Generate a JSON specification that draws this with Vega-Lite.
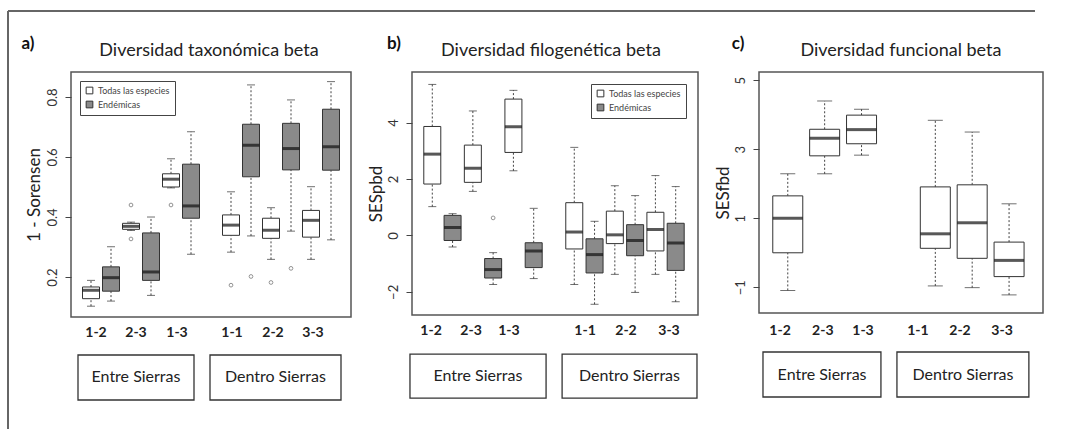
{
  "$schema": "https://vega.github.io/schema/vega-lite/v6.json",
  "background": "white",
  "padding": {"left": 6, "top": 9, "right": 0, "bottom": 0},
  "spacing": 61,
  "bounds": "flush",
  "resolve": {"scale": {"x": "independent", "y": "independent", "fill": "independent"}, "legend": {"fill": "independent"}},
  "datasets": {
    "one": [{}],
    "boxA": [
      {"p": 1, "grp": "Todas las especies", "lo": 0.103, "q1": 0.128, "med": 0.156, "q3": 0.167, "hi": 0.189},
      {"p": 2, "grp": "Endémicas", "lo": 0.12, "q1": 0.153, "med": 0.198, "q3": 0.234, "hi": 0.301},
      {"p": 3, "grp": "Todas las especies", "lo": 0.355, "q1": 0.359, "med": 0.369, "q3": 0.379, "hi": 0.383},
      {"p": 4, "grp": "Endémicas", "lo": 0.139, "q1": 0.189, "med": 0.217, "q3": 0.347, "hi": 0.4},
      {"p": 5, "grp": "Todas las especies", "lo": 0.497, "q1": 0.5, "med": 0.526, "q3": 0.544, "hi": 0.594},
      {"p": 6, "grp": "Endémicas", "lo": 0.276, "q1": 0.396, "med": 0.437, "q3": 0.576, "hi": 0.684},
      {"p": 8, "grp": "Todas las especies", "lo": 0.283, "q1": 0.339, "med": 0.373, "q3": 0.407, "hi": 0.484},
      {"p": 9, "grp": "Endémicas", "lo": 0.337, "q1": 0.534, "med": 0.639, "q3": 0.709, "hi": 0.84},
      {"p": 10, "grp": "Todas las especies", "lo": 0.259, "q1": 0.329, "med": 0.356, "q3": 0.396, "hi": 0.431},
      {"p": 11, "grp": "Endémicas", "lo": 0.353, "q1": 0.557, "med": 0.628, "q3": 0.712, "hi": 0.79},
      {"p": 12, "grp": "Todas las especies", "lo": 0.259, "q1": 0.333, "med": 0.389, "q3": 0.422, "hi": 0.501},
      {"p": 13, "grp": "Endémicas", "lo": 0.324, "q1": 0.556, "med": 0.634, "q3": 0.759, "hi": 0.851}
    ],
    "outA": [
      {"p": 3, "v": 0.44}, {"p": 3, "v": 0.327}, {"p": 5, "v": 0.44},
      {"p": 8, "v": 0.173}, {"p": 9, "v": 0.202}, {"p": 10, "v": 0.182}, {"p": 11, "v": 0.229}
    ],
    "labA": [
      {"p": 1.25, "lab": "1-2"}, {"p": 3.25, "lab": "2-3"}, {"p": 5.3, "lab": "1-3"},
      {"p": 8.05, "lab": "1-1"}, {"p": 10.1, "lab": "2-2"}, {"p": 12.1, "lab": "3-3"}
    ],
    "grpA": [
      {"g": "Entre Sierras", "x0": 0.35, "x1": 6.15, "xm": 3.25},
      {"g": "Dentro Sierras", "x0": 6.95, "x1": 13.5, "xm": 10.22}
    ],
    "boxB": [
      {"p": 1, "grp": "Todas las especies", "lo": 1.02, "q1": 1.82, "med": 2.88, "q3": 3.86, "hi": 5.35},
      {"p": 2, "grp": "Endémicas", "lo": -0.41, "q1": -0.18, "med": 0.28, "q3": 0.71, "hi": 0.77},
      {"p": 3, "grp": "Todas las especies", "lo": 1.56, "q1": 1.88, "med": 2.38, "q3": 3.2, "hi": 4.41},
      {"p": 4, "grp": "Endémicas", "lo": -1.74, "q1": -1.51, "med": -1.21, "q3": -0.82, "hi": -0.61},
      {"p": 5, "grp": "Todas las especies", "lo": 2.29, "q1": 2.94, "med": 3.85, "q3": 4.83, "hi": 5.14},
      {"p": 6, "grp": "Endémicas", "lo": -1.53, "q1": -1.14, "med": -0.55, "q3": -0.26, "hi": 0.96},
      {"p": 8, "grp": "Todas las especies", "lo": -1.74, "q1": -0.48, "med": 0.12, "q3": 1.16, "hi": 3.12},
      {"p": 9, "grp": "Endémicas", "lo": -2.44, "q1": -1.33, "med": -0.68, "q3": -0.12, "hi": 0.5},
      {"p": 10, "grp": "Todas las especies", "lo": -1.38, "q1": -0.29, "med": 0.02, "q3": 0.86, "hi": 1.76},
      {"p": 11, "grp": "Endémicas", "lo": -2.02, "q1": -0.72, "med": -0.18, "q3": 0.38, "hi": 1.41},
      {"p": 12, "grp": "Todas las especies", "lo": -1.38, "q1": -0.55, "med": 0.21, "q3": 0.82, "hi": 2.12},
      {"p": 13, "grp": "Endémicas", "lo": -2.35, "q1": -1.24, "med": -0.27, "q3": 0.43, "hi": 1.73}
    ],
    "outB": [{"p": 4, "v": 0.62}],
    "labB": [
      {"p": 0.94, "lab": "1-2"}, {"p": 2.91, "lab": "2-3"}, {"p": 4.78, "lab": "1-3"},
      {"p": 8.53, "lab": "1-1"}, {"p": 10.55, "lab": "2-2"}, {"p": 12.67, "lab": "3-3"}
    ],
    "grpB": [
      {"g": "Entre Sierras", "x0": -0.1, "x1": 6.61, "xm": 3.25},
      {"g": "Dentro Sierras", "x0": 7.4, "x1": 14.05, "xm": 10.72}
    ],
    "boxC": [
      {"p": 1, "lo": -1.09, "q1": 0.0, "med": 1.0, "q3": 1.65, "hi": 2.29},
      {"p": 2, "lo": 2.29, "q1": 2.81, "med": 3.32, "q3": 3.58, "hi": 4.4},
      {"p": 3, "lo": 2.83, "q1": 3.16, "med": 3.57, "q3": 3.99, "hi": 4.16},
      {"p": 5, "lo": -0.96, "q1": 0.13, "med": 0.55, "q3": 1.91, "hi": 3.84},
      {"p": 6, "lo": -1.01, "q1": -0.16, "med": 0.87, "q3": 1.97, "hi": 3.5},
      {"p": 7, "lo": -1.22, "q1": -0.69, "med": -0.22, "q3": 0.31, "hi": 1.42}
    ],
    "labC": [
      {"p": 0.79, "lab": "1-2"}, {"p": 1.95, "lab": "2-3"}, {"p": 3.04, "lab": "1-3"},
      {"p": 4.53, "lab": "1-1"}, {"p": 5.67, "lab": "2-2"}, {"p": 6.81, "lab": "3-3"}
    ],
    "grpC": [
      {"g": "Entre Sierras", "x0": 0.328, "x1": 3.526, "xm": 1.93},
      {"g": "Dentro Sierras", "x0": 3.96, "x1": 7.537, "xm": 5.75}
    ]
  },
  "hconcat": [
    {
      "width": 280, "height": 245,
      "layer": [
        {"data": {"name": "one"}, "mark": {"type": "rule", "color": "#666", "strokeWidth": 2},
         "encoding": {"x": {"datum": -3.15, "type": "quantitative", "axis": null}, "y": {"datum": 1.0862, "type": "quantitative"}, "y2": {"datum": -0.306}}},
        {"data": {"name": "one"}, "mark": {"type": "rule", "color": "#666", "strokeWidth": 2},
         "encoding": {"x": {"datum": -3.15, "type": "quantitative", "axis": null}, "x2": {"datum": 48.2}, "y": {"datum": 1.0862, "type": "quantitative"}}},
        {"mark": {"type": "rule", "color": "#555", "strokeWidth": 1.3},
         "encoding": {"x": {"datum": 6.9, "type": "quantitative", "axis": null}}},
        {"data": {"name": "boxA"}, "mark": {"type": "rule", "color": "#444", "strokeWidth": 1, "strokeDash": [2, 2]},
         "encoding": {"x": {"field": "p", "type": "quantitative", "axis": null}, "y": {"field": "q3", "type": "quantitative"}, "y2": {"field": "hi"}}},
        {"data": {"name": "boxA"}, "mark": {"type": "rule", "color": "#444", "strokeWidth": 1, "strokeDash": [2, 2]},
         "encoding": {"x": {"field": "p", "type": "quantitative", "axis": null}, "y": {"field": "lo", "type": "quantitative"}, "y2": {"field": "q1"}}},
        {"data": {"name": "boxA"}, "mark": {"type": "tick", "orient": "horizontal", "size": 8, "thickness": 1, "color": "#333"},
         "encoding": {"x": {"field": "p", "type": "quantitative", "axis": null}, "y": {"field": "hi", "type": "quantitative"}}},
        {"data": {"name": "boxA"}, "mark": {"type": "tick", "orient": "horizontal", "size": 8, "thickness": 1, "color": "#333"},
         "encoding": {"x": {"field": "p", "type": "quantitative", "axis": null}, "y": {"field": "lo", "type": "quantitative"}}},
        {"data": {"name": "boxA"}, "mark": {"type": "bar", "width": 17, "stroke": "#333", "strokeWidth": 1},
         "encoding": {
           "x": {"field": "p", "type": "quantitative", "axis": null, "scale": {"domain": [0, 14], "nice": false, "zero": false, "padding": 0}},
           "y": {"field": "q1", "type": "quantitative", "scale": {"domain": [0.067, 0.883], "nice": false, "zero": false, "padding": 0},
                 "axis": {"title": "1 - Sorensen", "values": [0.2, 0.4, 0.6, 0.8], "titlePadding": 3}},
           "y2": {"field": "q3"},
           "fill": {"field": "grp", "type": "nominal", "scale": {"domain": ["Todas las especies", "Endémicas"], "range": ["#ffffff", "#8a8a8a"]},
                    "legend": {"orient": "top-left", "offset": 9, "title": null, "strokeColor": "#444", "padding": 5, "symbolType": "square", "symbolSize": 45, "symbolStrokeColor": "#333", "symbolStrokeWidth": 1, "labelFontSize": 9, "labelColor": "#444", "rowPadding": 3}}
         }},
        {"data": {"name": "boxA"}, "mark": {"type": "tick", "orient": "horizontal", "size": 17, "thickness": 3, "color": "#111"},
         "encoding": {"x": {"field": "p", "type": "quantitative", "axis": null}, "y": {"field": "med", "type": "quantitative"}}},
        {"data": {"name": "outA"}, "mark": {"type": "point", "shape": "circle", "filled": false, "size": 14, "color": "#666", "strokeWidth": 1},
         "encoding": {"x": {"field": "p", "type": "quantitative", "axis": null}, "y": {"field": "v", "type": "quantitative"}}},
        {"data": {"name": "labA"}, "mark": {"type": "text", "fontSize": 14, "fontWeight": "bold", "color": "#222", "baseline": "middle"},
         "encoding": {"x": {"field": "p", "type": "quantitative", "axis": null}, "y": {"datum": 0.0147, "type": "quantitative"}, "text": {"field": "lab"}}},
        {"data": {"name": "grpA"}, "mark": {"type": "rect", "fill": "transparent", "stroke": "#333", "strokeWidth": 1.3},
         "encoding": {"x": {"field": "x0", "type": "quantitative", "axis": null}, "x2": {"field": "x1"}, "y": {"datum": -0.0596, "type": "quantitative"}, "y2": {"datum": -0.2094}}},
        {"data": {"name": "grpA"}, "mark": {"type": "text", "fontSize": 16, "color": "#222", "baseline": "middle"},
         "encoding": {"x": {"field": "xm", "type": "quantitative", "axis": null}, "y": {"datum": -0.1345, "type": "quantitative"}, "text": {"field": "g"}}},
        {"data": {"name": "one"}, "mark": {"type": "text", "text": "a)", "fontSize": 17, "fontWeight": "bold", "color": "#111", "baseline": "middle"},
         "encoding": {"x": {"datum": -2.15, "type": "quantitative", "axis": null}, "y": {"datum": 0.976, "type": "quantitative"}}},
        {"data": {"name": "one"}, "mark": {"type": "text", "text": "Diversidad taxonómica beta", "fontSize": 18, "color": "#222", "baseline": "middle"},
         "encoding": {"x": {"datum": 6.9, "type": "quantitative", "axis": null}, "y": {"datum": 0.953, "type": "quantitative"}}}
      ]
    },
    {
      "width": 286, "height": 243,
      "layer": [
        {"mark": {"type": "rule", "color": "#e2e2e2", "strokeWidth": 1},
         "encoding": {"y": {"datum": 2, "type": "quantitative"}}},
        {"mark": {"type": "rule", "color": "#b8b8b8", "strokeWidth": 2},
         "encoding": {"y": {"datum": 0, "type": "quantitative"}}},
        {"mark": {"type": "rule", "color": "#555", "strokeWidth": 1.3},
         "encoding": {"x": {"datum": 7.05, "type": "quantitative", "axis": null}}},
        {"data": {"name": "boxB"}, "mark": {"type": "rule", "color": "#444", "strokeWidth": 1, "strokeDash": [2, 2]},
         "encoding": {"x": {"field": "p", "type": "quantitative", "axis": null}, "y": {"field": "q3", "type": "quantitative"}, "y2": {"field": "hi"}}},
        {"data": {"name": "boxB"}, "mark": {"type": "rule", "color": "#444", "strokeWidth": 1, "strokeDash": [2, 2]},
         "encoding": {"x": {"field": "p", "type": "quantitative", "axis": null}, "y": {"field": "lo", "type": "quantitative"}, "y2": {"field": "q1"}}},
        {"data": {"name": "boxB"}, "mark": {"type": "tick", "orient": "horizontal", "size": 8, "thickness": 1, "color": "#333"},
         "encoding": {"x": {"field": "p", "type": "quantitative", "axis": null}, "y": {"field": "hi", "type": "quantitative"}}},
        {"data": {"name": "boxB"}, "mark": {"type": "tick", "orient": "horizontal", "size": 8, "thickness": 1, "color": "#333"},
         "encoding": {"x": {"field": "p", "type": "quantitative", "axis": null}, "y": {"field": "lo", "type": "quantitative"}}},
        {"data": {"name": "boxB"}, "mark": {"type": "bar", "width": 17, "stroke": "#333", "strokeWidth": 1},
         "encoding": {
           "x": {"field": "p", "type": "quantitative", "axis": null, "scale": {"domain": [0, 14.1], "nice": false, "zero": false, "padding": 0}},
           "y": {"field": "q1", "type": "quantitative", "scale": {"domain": [-2.82, 5.79], "nice": false, "zero": false, "padding": 0},
                 "axis": {"title": "SESpbd", "values": [-2, 0, 2, 4]}},
           "y2": {"field": "q3"},
           "fill": {"field": "grp", "type": "nominal", "scale": {"domain": ["Todas las especies", "Endémicas"], "range": ["#ffffff", "#8a8a8a"]},
                    "legend": {"orient": "top-right", "offset": 12, "title": null, "strokeColor": "#444", "padding": 5, "symbolType": "square", "symbolSize": 45, "symbolStrokeColor": "#333", "symbolStrokeWidth": 1, "labelFontSize": 9, "labelColor": "#444", "rowPadding": 3}}
         }},
        {"data": {"name": "boxB"}, "mark": {"type": "tick", "orient": "horizontal", "size": 17, "thickness": 3, "color": "#111"},
         "encoding": {"x": {"field": "p", "type": "quantitative", "axis": null}, "y": {"field": "med", "type": "quantitative"}}},
        {"data": {"name": "outB"}, "mark": {"type": "point", "shape": "circle", "filled": false, "size": 14, "color": "#666", "strokeWidth": 1},
         "encoding": {"x": {"field": "p", "type": "quantitative", "axis": null}, "y": {"field": "v", "type": "quantitative"}}},
        {"data": {"name": "labB"}, "mark": {"type": "text", "fontSize": 14, "fontWeight": "bold", "color": "#222", "baseline": "middle"},
         "encoding": {"x": {"field": "p", "type": "quantitative", "axis": null}, "y": {"datum": -3.388, "type": "quantitative"}, "text": {"field": "lab"}}},
        {"data": {"name": "grpB"}, "mark": {"type": "rect", "fill": "transparent", "stroke": "#333", "strokeWidth": 1.3},
         "encoding": {"x": {"field": "x0", "type": "quantitative", "axis": null}, "x2": {"field": "x1"}, "y": {"datum": -4.203, "type": "quantitative"}, "y2": {"datum": -5.762}}},
        {"data": {"name": "grpB"}, "mark": {"type": "text", "fontSize": 16, "color": "#222", "baseline": "middle"},
         "encoding": {"x": {"field": "xm", "type": "quantitative", "axis": null}, "y": {"datum": -4.983, "type": "quantitative"}, "text": {"field": "g"}}},
        {"data": {"name": "one"}, "mark": {"type": "text", "text": "b)", "fontSize": 17, "fontWeight": "bold", "color": "#111", "baseline": "middle"},
         "encoding": {"x": {"datum": -0.89, "type": "quantitative", "axis": null}, "y": {"datum": 6.78, "type": "quantitative"}}},
        {"data": {"name": "one"}, "mark": {"type": "text", "text": "Diversidad filogenética beta", "fontSize": 18, "color": "#222", "baseline": "middle"},
         "encoding": {"x": {"datum": 6.85, "type": "quantitative", "axis": null}, "y": {"datum": 6.534, "type": "quantitative"}}}
      ]
    },
    {
      "width": 284, "height": 241,
      "layer": [
        {"mark": {"type": "rule", "color": "#d8d8d8", "strokeWidth": 1},
         "encoding": {"y": {"datum": 2, "type": "quantitative"}}},
        {"mark": {"type": "rule", "color": "#444", "strokeWidth": 1.2},
         "encoding": {"y": {"datum": 0, "type": "quantitative"}}},
        {"mark": {"type": "rule", "color": "#555", "strokeWidth": 1.3},
         "encoding": {"x": {"datum": 4.0, "type": "quantitative", "axis": null}}},
        {"data": {"name": "boxC"}, "mark": {"type": "rule", "color": "#444", "strokeWidth": 1, "strokeDash": [2, 2]},
         "encoding": {"x": {"field": "p", "type": "quantitative", "axis": null}, "y": {"field": "q3", "type": "quantitative"}, "y2": {"field": "hi"}}},
        {"data": {"name": "boxC"}, "mark": {"type": "rule", "color": "#444", "strokeWidth": 1, "strokeDash": [2, 2]},
         "encoding": {"x": {"field": "p", "type": "quantitative", "axis": null}, "y": {"field": "lo", "type": "quantitative"}, "y2": {"field": "q1"}}},
        {"data": {"name": "boxC"}, "mark": {"type": "tick", "orient": "horizontal", "size": 15, "thickness": 1, "color": "#333"},
         "encoding": {"x": {"field": "p", "type": "quantitative", "axis": null}, "y": {"field": "hi", "type": "quantitative"}}},
        {"data": {"name": "boxC"}, "mark": {"type": "tick", "orient": "horizontal", "size": 15, "thickness": 1, "color": "#333"},
         "encoding": {"x": {"field": "p", "type": "quantitative", "axis": null}, "y": {"field": "lo", "type": "quantitative"}}},
        {"data": {"name": "boxC"}, "mark": {"type": "bar", "width": 30, "fill": "#ffffff", "stroke": "#333", "strokeWidth": 1},
         "encoding": {
           "x": {"field": "p", "type": "quantitative", "axis": null, "scale": {"domain": [0.22, 7.92], "nice": false, "zero": false, "padding": 0}},
           "y": {"field": "q1", "type": "quantitative", "scale": {"domain": [-1.745, 5.24], "nice": false, "zero": false, "padding": 0},
                 "axis": {"title": "SESfbd", "values": [-1, 1, 3, 5]}},
           "y2": {"field": "q3"}
         }},
        {"data": {"name": "boxC"}, "mark": {"type": "tick", "orient": "horizontal", "size": 30, "thickness": 3, "color": "#111"},
         "encoding": {"x": {"field": "p", "type": "quantitative", "axis": null}, "y": {"field": "med", "type": "quantitative"}}},
        {"data": {"name": "labC"}, "mark": {"type": "text", "fontSize": 14, "fontWeight": "bold", "color": "#222", "baseline": "middle"},
         "encoding": {"x": {"field": "p", "type": "quantitative", "axis": null}, "y": {"datum": -2.267, "type": "quantitative"}, "text": {"field": "lab"}}},
        {"data": {"name": "grpC"}, "mark": {"type": "rect", "fill": "transparent", "stroke": "#333", "strokeWidth": 1.3},
         "encoding": {"x": {"field": "x0", "type": "quantitative", "axis": null}, "x2": {"field": "x1"}, "y": {"datum": -2.876, "type": "quantitative"}, "y2": {"datum": -4.18}}},
        {"data": {"name": "grpC"}, "mark": {"type": "text", "fontSize": 16, "color": "#222", "baseline": "middle"},
         "encoding": {"x": {"field": "xm", "type": "quantitative", "axis": null}, "y": {"datum": -3.528, "type": "quantitative"}, "text": {"field": "g"}}},
        {"data": {"name": "one"}, "mark": {"type": "text", "text": "c)", "fontSize": 17, "fontWeight": "bold", "color": "#111", "baseline": "middle"},
         "encoding": {"x": {"datum": -0.349, "type": "quantitative", "axis": null}, "y": {"datum": 6.05, "type": "quantitative"}}},
        {"data": {"name": "one"}, "mark": {"type": "text", "text": "Diversidad funcional beta", "fontSize": 18, "color": "#222", "baseline": "middle"},
         "encoding": {"x": {"datum": 4.068, "type": "quantitative", "axis": null}, "y": {"datum": 5.849, "type": "quantitative"}}}
      ]
    }
  ],
  "config": {
    "font": "Lato",
    "view": {"stroke": "#555", "strokeWidth": 1.5},
    "axis": {"grid": false, "domain": false, "tickColor": "#444", "tickSize": 6, "labelFontSize": 13, "labelColor": "#333", "labelAngle": 270, "labelAlign": "center", "labelBaseline": "bottom", "labelPadding": 5.5, "titleFontSize": 17, "titleFontWeight": "normal", "titleColor": "#222", "titlePadding": 2}
  }
}
